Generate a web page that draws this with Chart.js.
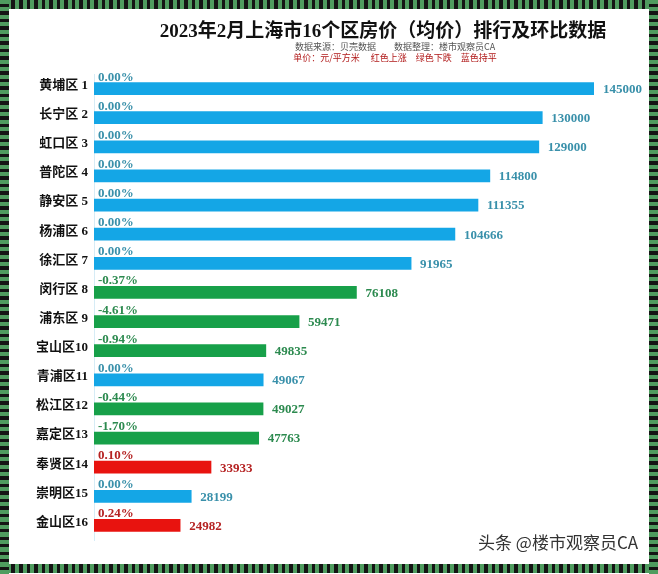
<!DOCTYPE html>
<html>
<head>
<meta charset="utf-8">
<script src="https://cdn.jsdelivr.net/npm/chart.js@4/dist/chart.umd.min.js"></script>
<style>
  body { margin: 0; background: #fff; }
  #wrap { position: relative; width: 658px; height: 574px; overflow: hidden; background: #fff; }
  .bd { position: absolute; }
  .h { left: 0; width: 658px; height: 9px; background: repeating-linear-gradient(90deg, #4f9c5f 0 4px, #141414 4px 7.5px); }
  .v { top: 0; width: 9px; height: 574px; background: repeating-linear-gradient(180deg, #4f9c5f 0 4px, #141414 4px 7.5px); }
  #title { position: absolute; left: 0; width: 766px; top: 15px; text-align: center;
    font: bold 19px "Liberation Serif", "Noto Sans CJK SC", serif; color: #111; }
  .sub { position: absolute; left: 0; width: 790px; text-align: center;
    font: 9px "Noto Sans CJK SC", sans-serif; }
  #mark { position: absolute; left: 478px; top: 529px; font: 17px "Noto Sans CJK SC", sans-serif; color: #333; }
  canvas { position: absolute; left: 0; top: 0; }
</style>
</head>
<body>
<div id="wrap">
  <canvas id="chart" width="658" height="574"></canvas>
  <div id="title">2023年2月上海市16个区房价（均价）排行及环比数据</div>
  <div class="sub" style="top:40px;color:#555">数据来源：贝壳数据　　数据整理：楼市观察员CA</div>
  <div class="sub" style="top:51px;color:#b01818">单价：元/平方米　 红色上涨　绿色下跌　蓝色持平</div>
  <div id="mark">头条 @楼市观察员CA</div>
  <div class="bd h" style="top:0"></div>
  <div class="bd h" style="top:564px"></div>
  <div class="bd v" style="left:0"></div>
  <div class="bd v" style="left:649px"></div>
</div>
<script>
const districts = ['黄埔区 1', '长宁区 2', '虹口区 3', '普陀区 4', '静安区 5', '杨浦区 6', '徐汇区 7', '闵行区 8',
    '浦东区 9', '宝山区10', '青浦区11', '松江区12', '嘉定区13', '奉贤区14', '崇明区15', '金山区16'];
const prices = [145000, 130000, 129000, 114800, 111355, 104666, 91965, 76108,
    59471, 49835, 49067, 49027, 47763, 33933, 28199, 24982];
const changes = [0.00, 0.00, 0.00, 0.00, 0.00, 0.00, 0.00, -0.37,
    -4.61, -0.94, 0.00, -0.44, -1.70, 0.10, 0.00, 0.24];

// 涨跌颜色
const barColor = c => c > 0 ? '#e8130f' : (c < 0 ? '#17a049' : '#14a6e6');
const textColor = c => c > 0 ? '#b52222' : (c < 0 ? '#2c8a4f' : '#3990aa');

const labelPlugin = {
    id: 'barLabels',
    afterDatasetsDraw(chart) {
        const ctx = chart.ctx;
        const meta = chart.getDatasetMeta(0);
        ctx.save();
        ctx.font = 'bold 13px "Liberation Serif", serif';
        meta.data.forEach((bar, i) => {
            ctx.fillStyle = textColor(changes[i]);
            // 数值
            ctx.textAlign = 'left';
            ctx.textBaseline = 'middle';
            ctx.fillText(String(prices[i]), bar.x + 9, bar.y + 1);
            // 环比
            ctx.textBaseline = 'alphabetic';
            ctx.fillText(changes[i].toFixed(2) + '%', bar.base + 4, bar.y - 8);
        });
        ctx.restore();
    }
};

new Chart(document.getElementById('chart'), {
    type: 'bar',
    data: {
        labels: districts,
        datasets: [{
            data: prices,
            backgroundColor: changes.map(barColor),
            barThickness: 12
        }]
    },
    options: {
        indexAxis: 'y',
        responsive: false,
        animation: false,
        layout: { padding: { left: 10, right: 64, top: 74, bottom: 34 } },
        scales: {
            x: { display: false, min: 0, max: 145000 },
            y: {
                grid: { display: false, drawTicks: false },
                border: { color: '#d6ecf6' },
                afterFit: scale => { scale.width = 84; },
                ticks: {
                    color: '#111',
                    padding: 6,
                    labelOffset: -3,
                    font: { family: '"Liberation Serif", "Noto Sans CJK SC", serif', size: 13, weight: 'bold' }
                }
            }
        },
        plugins: {
            legend: { display: false },
            tooltip: { enabled: false }
        }
    },
    plugins: [labelPlugin]
});
</script>
</body>
</html>
